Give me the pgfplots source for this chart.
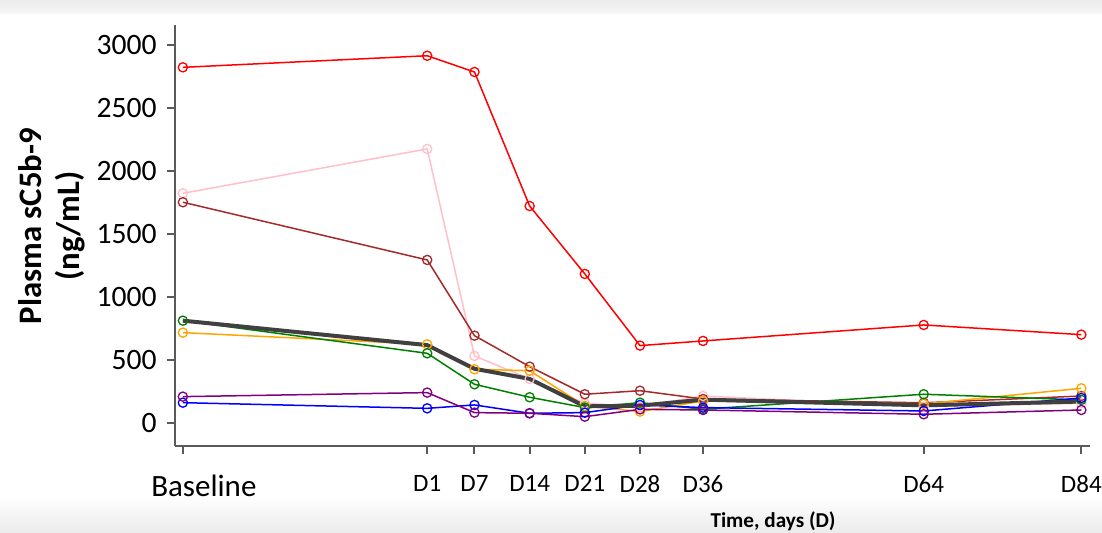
\documentclass[border=0pt]{standalone}
\usepackage{pgfplots}
\pgfplotsset{compat=1.18}
\usepackage{fontspec}
\setmainfont{Carlito}

\definecolor{axisgray}{HTML}{5A5A5A}
\definecolor{sRed}{HTML}{FF0000}
\definecolor{sPink}{HTML}{FFC0CB}
\definecolor{sBrown}{HTML}{A52A2A}
\definecolor{sGreen}{HTML}{008000}
\definecolor{sOrange}{HTML}{FFA500}
\definecolor{sBlue}{HTML}{0000FF}
\definecolor{sPurple}{HTML}{800080}
\definecolor{sMedian}{HTML}{404040}
\definecolor{bandgray}{HTML}{EBEBEB}

% day: Baseline is drawn at day -30
\pgfplotstableread{
day  red   pink  brown green orange blue purple median
-30  2823  1823  1752  812   717    161  209    812
1    2915  2175  1294  553   624    116  241    618
7    2786  532   693   307   426    143  82     430
14   1722  350   447   204   415    77   77     350
21   1183  156   228   122   135    82   50     132
28   614   130   256   161   90     143  108    137
36   651   214   190   109   175    122  103    185
64   778   130   160   228   151    95   69     140
84   701   156   214   183   275    198  103    170
}\sCfiveb

\begin{document}
\begin{tikzpicture}
% page background
\fill[white] (-87.5pt,-43pt) rectangle (463.5pt,223pt);
\shade[top color=bandgray, bottom color=white!60!bandgray] (-87.5pt,216.5pt) rectangle (463.5pt,223pt);
\shade[top color=white, bottom color=bandgray] (-87.5pt,-25pt) rectangle (463.5pt,-43pt);
\path[use as bounding box] (-87.5pt,-43pt) rectangle (463.5pt,223pt);
\begin{axis}[
  at={(0pt,0pt)}, anchor=south west,
  scale only axis, width=457.5pt, height=210.5pt,
  xmin=-31, xmax=85.1, ymin=-183, ymax=3159,
  axis x line*=bottom, axis y line*=left,
  axis line style={axisgray, line width=1pt, -},
  tick style={axisgray, line width=1pt},
  tick align=outside,
  major tick length=4pt,
  xtick={-30,1,7,14,21,28,36,64,84},
  xticklabels={{\hspace*{21pt}\fontsize{15.5pt}{17pt}\selectfont Baseline},D1,D7,D14,D21,D28,D36,D64,D84},
  xticklabel style={font=\fontsize{12.5pt}{14pt}\selectfont, anchor=north, inner sep=0pt, yshift=-10.5pt},
  ytick={0,500,...,3000},
  yticklabel style={font=\fontsize{14.8pt}{16pt}\selectfont, anchor=east, inner sep=0pt, xshift=-5pt},
  /pgf/number format/assume math mode=true,
  /pgf/number format/1000 sep={},
  every axis y label/.style={at={(rel axis cs:-0.1344,0.5226)}, rotate=90, anchor=center, align=center,
    font=\fontsize{16.4pt}{19pt}\selectfont\bfseries},
  ylabel={Plasma sC5b-9\\(ng/mL)},
  every axis x label/.style={at={(rel axis cs:0.6536,-0.178)}, anchor=center,
    font=\fontsize{10.6pt}{12pt}\selectfont\bfseries},
  xlabel={Time, days (D)},
  clip=false,
  every axis plot/.append style={line width=0.75pt, mark=o, mark size=2.3pt,
    mark options={line width=0.65pt, solid}},
]
\addplot[sPink]   table[x=day, y=pink]   {\sCfiveb};
\addplot[sBrown]  table[x=day, y=brown]  {\sCfiveb};
\addplot[sRed]    table[x=day, y=red]    {\sCfiveb};
\addplot[sOrange] table[x=day, y=orange] {\sCfiveb};
\addplot[sGreen]  table[x=day, y=green]  {\sCfiveb};
\addplot[sBlue]   table[x=day, y=blue]   {\sCfiveb};
\addplot[sPurple] table[x=day, y=purple] {\sCfiveb};
\addplot[sMedian, line width=2pt, mark=none] table[x=day, y=median] {\sCfiveb};
\end{axis}
\end{tikzpicture}
\end{document}
